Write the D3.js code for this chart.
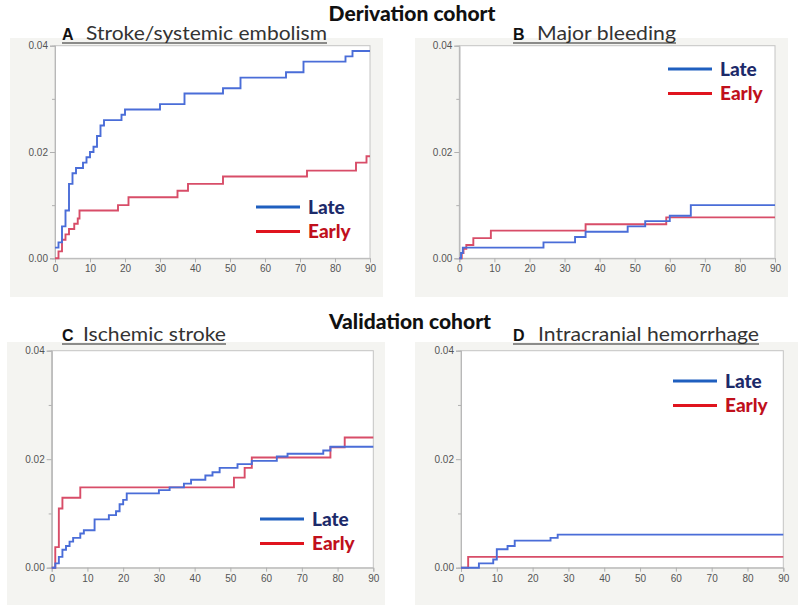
<!DOCTYPE html>
<html><head><meta charset="utf-8">
<script src="https://cdn.jsdelivr.net/npm/d3@7"></script>
<style>body{margin:0;background:#fff}svg{display:block}</style>
</head><body>
<svg id="chart" width="800" height="612"></svg>
<script>
// ---- data ----
const xTicks = [0,10,20,30,40,50,60,70,80,90];
const yTicks = [0.00,0.02,0.04];
const yMinor = [0.01,0.03];
const seriesNames = ["Late","Early"];
const cohortTitles = ["Derivation cohort","Validation cohort"];
const panelLetters = ["A","B","C","D"];
const panelTitles = ["Stroke/systemic embolism","Major bleeding","Ischemic stroke","Intracranial hemorrhage"];

const aLateT = [0,1,2,3,4,5,6,8,9,10,11,12,13,14,19,20,30,37,48,53,66,71,83,85];
const aLateV = [0.002,0.003,0.006,0.009,0.014,0.016,0.017,0.018,0.019,0.020,0.021,0.023,0.025,0.026,0.027,0.028,0.029,0.031,0.032,0.034,0.035,0.037,0.038,0.039];
const aEarlyT = [0,1,2,3,4,5.5,6.5,7,18,21,35,38,48,72,86,89];
const aEarlyV = [0,0.0013,0.0035,0.0045,0.0055,0.0065,0.0075,0.009,0.010,0.0115,0.0127,0.014,0.0154,0.0165,0.018,0.0192];

const bLateT = [0,0.5,1,24,33,36,48,53,60,66];
const bLateV = [0,0.001,0.002,0.003,0.004,0.005,0.006,0.007,0.008,0.010];
const bEarlyT = [0,0.7,1.2,2,4,9,36,59];
const bEarlyV = [0,0.001,0.0018,0.0025,0.0038,0.0052,0.0064,0.0077];

const cLateT = [0,1,2,3,4,5,6,8,9,12,16,18,19,20,21,30,33,37,39,43,45,47,52,56,63,66,76,78];
const cLateV = [0,0.0008,0.002,0.0033,0.004,0.0048,0.0055,0.0063,0.0069,0.0089,0.0097,0.0104,0.0117,0.0125,0.0137,0.0143,0.0148,0.0155,0.0162,0.017,0.0176,0.0184,0.0191,0.0197,0.0205,0.021,0.0216,0.0223];
const cEarlyT = [0,1,2,3,8,51,54,56,78,82];
const cEarlyV = [0,0.0038,0.0109,0.0129,0.0148,0.0166,0.0184,0.0203,0.0222,0.024];

const dLateT = [0,5,9,10,13,15,25,27];
const dLateV = [0,0.0008,0.0015,0.0034,0.004,0.005,0.0055,0.0061];
const dEarlyT = [0,2];
const dEarlyV = [0,0.002];

// ---- layout / style ----
const panels = [
  {bg:[10,38,373,259], plot:[55,45.7,370,258.3], legend:[256,207], title:[62,86,40], lateT:aLateT,lateV:aLateV,earlyT:aEarlyT,earlyV:aEarlyV, tw:241},
  {bg:[415,38,373,259], plot:[459.3,45.7,775,258.3], legend:[668,69], title:[513,537,40], lateT:bLateT,lateV:bLateV,earlyT:bEarlyT,earlyV:bEarlyV, tw:139},
  {bg:[7,342,378,263], plot:[51.7,350.7,373.3,567.7], legend:[260,519], title:[62,83,341], lateT:cLateT,lateV:cLateV,earlyT:cEarlyT,earlyV:cEarlyV, tw:143},
  {bg:[415,342,383,263], plot:[461,350.7,783.3,567.7], legend:[673,381], title:[513,538,341], lateT:dLateT,lateV:dLateV,earlyT:dEarlyT,earlyV:dEarlyV, tw:221}
];
const lineColors = ["#4a6dd8","#d84d68"];
const legendLineColors = ["#1f5fbf","#e0141e"];
const legendTextColors = ["#1c2a6a","#c0101c"];

const svg = d3.select("#chart");

// cohort titles
svg.append("text").attr("x",412).attr("y",21).attr("text-anchor","middle")
  .style("font-family","Lato, 'Open Sans', sans-serif").style("font-weight","900").style("font-size","21px").attr("fill","#111")
  .text(cohortTitles[0]);
svg.append("text").attr("x",410).attr("y",329).attr("text-anchor","middle")
  .style("font-family","Lato, 'Open Sans', sans-serif").style("font-weight","900").style("font-size","21px").attr("fill","#111")
  .text(cohortTitles[1]);

panels.forEach((p,i)=>{
  const g = svg.append("g");
  g.append("rect").attr("x",p.bg[0]).attr("y",p.bg[1]).attr("width",p.bg[2]).attr("height",p.bg[3]).attr("fill","#f4f4f1");
  const [x0,y0,x1,y1] = p.plot;
  const x = d3.scaleLinear().domain([0,90]).range([x0,x1]);
  const y = d3.scaleLinear().domain([0,0.04]).range([y1,y0]);
  g.append("rect").attr("x",x0).attr("y",y0).attr("width",x1-x0).attr("height",y1-y0).attr("fill","#fff").attr("stroke","#c4c4c4").attr("stroke-width",1);

  // axes
  const ax = g.append("g").attr("transform",`translate(0,${y1})`)
    .call(d3.axisBottom(x).tickValues(xTicks).tickFormat(d3.format("d")).tickSize(4).tickPadding(3));
  const ay = g.append("g").attr("transform",`translate(${x0},0)`)
    .call(d3.axisLeft(y).tickValues(yTicks).tickFormat(d3.format(".2f")).tickSize(5).tickPadding(2));
  const aym = g.append("g").attr("transform",`translate(${x0},0)`)
    .call(d3.axisLeft(y).tickValues(yMinor).tickFormat("").tickSize(3));
  [ax,ay,aym].forEach(a=>{
    a.select(".domain").attr("stroke","#b8b8b8");
    a.selectAll(".tick line").attr("stroke","#b0b0b0");
    a.selectAll("text").attr("fill","#555").style("font-family","'Liberation Sans', Arial, sans-serif").style("font-size","10px");
  });

  // curves
  const line = d3.line().x(d=>x(d[0])).y(d=>y(d[1])).curve(d3.curveStepAfter);
  const mk = (T,V)=>{ const pts = T.map((t,k)=>[t,V[k]]); pts.push([90,V[V.length-1]]); return pts; };
  g.append("path").datum(mk(p.earlyT,p.earlyV)).attr("d",line).attr("fill","none").attr("stroke",lineColors[1]).attr("stroke-width",1.9);
  g.append("path").datum(mk(p.lateT,p.lateV)).attr("d",line).attr("fill","none").attr("stroke",lineColors[0]).attr("stroke-width",1.9);

  // legend
  const [lx,ly] = p.legend;
  seriesNames.forEach((s,k)=>{
    const yy = ly + k*24.5;
    g.append("line").attr("x1",lx).attr("x2",lx+44).attr("y1",yy).attr("y2",yy).attr("stroke",legendLineColors[k]).attr("stroke-width",3);
    g.append("text").attr("x",lx+52).attr("y",yy+6.5).text(s).attr("fill",legendTextColors[k])
      .style("font-family","Lato, 'Open Sans', sans-serif").style("font-weight","900").style("font-size","19px");
  });

  // panel title
  const [lx0,tx,ty] = p.title;
  g.append("text").attr("x",lx0).attr("y",ty).text(panelLetters[i]).attr("fill","#111")
    .style("font-family","'Liberation Sans', Arial, sans-serif").style("font-weight","bold").style("font-size","16px");
  g.append("text").attr("x",tx).attr("y",ty).text(panelTitles[i]).attr("fill","#333")
    .attr("textLength",p.tw).attr("lengthAdjust","spacingAndGlyphs")
    .style("font-family","Lato, 'Open Sans', sans-serif").style("font-size","20px");
  g.append("line").attr("x1",lx0).attr("x2",tx+p.tw).attr("y1",ty+3).attr("y2",ty+3).attr("stroke","#222").attr("stroke-width",1.2);
});
</script>
</body></html>
